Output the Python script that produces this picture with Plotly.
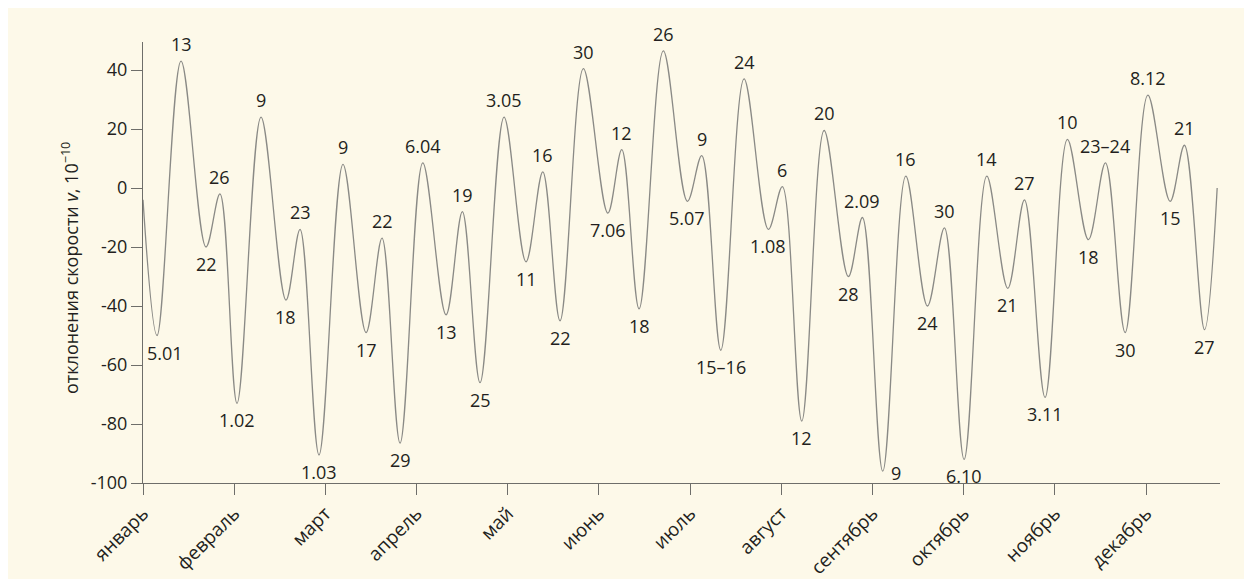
import plotly.graph_objects as go

# === ДАННЫЕ (x в долях месяца от начала января) ===
months = ["январь", "февраль", "март", "апрель", "май", "июнь",
          "июль", "август", "сентябрь", "октябрь", "ноябрь", "декабрь"]
y_ticks = [-100, -80, -60, -40, -20, 0, 20, 40]

# экстремумы кривой: положение, значение, подпись
ext_x = [0.000, 0.154, 0.417, 0.691, 0.844, 1.031, 1.294, 1.568, 1.722, 1.930,
         2.193, 2.446, 2.621, 2.819, 3.068, 3.323, 3.502, 3.696, 3.959, 4.200,
         4.384, 4.573, 4.829, 5.097, 5.250, 5.440, 5.706, 5.970, 6.127, 6.336,
         6.591, 6.858, 7.011, 7.224, 7.469, 7.735, 7.889, 8.112, 8.365, 8.602,
         8.788, 9.004, 9.253, 9.483, 9.666, 9.892, 10.137, 10.367, 10.554, 10.770,
         11.019, 11.263, 11.420, 11.640, 11.779]
ext_y = [-4, -50, 43, -20, -2, -73, 24, -38, -14, -90.5,
         8, -49, -17, -86.5, 8.5, -43, -8, -66, 24, -25,
         5.5, -45, 40.5, -8.5, 13, -41, 46.5, -4.5, 11, -55,
         37, -14, 0.5, -79, 19.5, -30, -10, -96, 4, -40,
         -13.5, -92, 4, -34, -4, -71, 16.5, -17.5, 8.5, -49,
         31.5, -4.5, 14.5, -48, 0]
ext_lbl = ["", "5.01", "13", "22", "26", "1.02", "9", "18", "23", "1.03",
           "9", "17", "22", "29", "6.04", "13", "19", "25", "3.05", "11",
           "16", "22", "30", "7.06", "12", "18", "26", "5.07", "9", "15–16",
           "24", "1.08", "6", "12", "20", "28", "2.09", "9", "16", "24",
           "30", "6.10", "14", "21", "27", "3.11", "10", "18", "23–24", "30",
           "8.12", "15", "21", "27", ""]

FONT = "Open Sans"
TXT = "#231f20"
CREAM = "#fdf9e9"
AXC = "#6e6e6a"

fig = go.Figure()
fig.add_trace(go.Scatter(
    x=ext_x, y=ext_y, mode="lines",
    line=dict(color="#8a8a86", width=1.3, shape="spline", smoothing=1.0),
    hoverinfo="skip", showlegend=False,
))

# подписи экстремумов
annots = []
for i, (x, y, t) in enumerate(zip(ext_x, ext_y, ext_lbl)):
    if not t:
        continue
    is_max = y > ext_y[i - 1]
    a = dict(x=x, y=y, text=t, showarrow=False,
             font=dict(family=FONT, size=18, color=TXT))
    if is_max:
        a.update(yanchor="bottom", yshift=3)
    else:
        a.update(yanchor="top", yshift=-3)
    if t == "5.01":
        a.update(xshift=8)
    if t == "9" and y < -90:
        a.update(yanchor="middle", xanchor="left", xshift=6, yshift=-2)
    annots.append(a)

annots.append(dict(
    x=-0.0817, y=0.4875, xref="paper", yref="paper", showarrow=False,
    text="отклонения скорости <i>v</i>, 10<sup>−10</sup>", textangle=-90,
    font=dict(family=FONT, size=18, color=TXT),
))

# страница сдвинута на 8px полем body, поэтому фигура 1244x571
fig.update_layout(
    width=1244, height=571,
    margin=dict(l=135, r=32, t=34, b=96),
    paper_bgcolor=CREAM,
    plot_bgcolor=CREAM,
    font=dict(family=FONT, color=TXT),
    annotations=annots,
    xaxis=dict(
        range=[0, 11.81], tickmode="array",
        tickvals=list(range(12)), ticktext=months,
        tickangle=-45, ticks="outside", ticklen=11, tickcolor=AXC,
        showline=True, linecolor=AXC, linewidth=1,
        showgrid=False, zeroline=False, automargin=False,
        tickfont=dict(family=FONT, size=19, color=TXT),
    ),
    yaxis=dict(
        range=[-100, 49.5], tickmode="array",
        tickvals=y_ticks, ticktext=[str(v) for v in y_ticks],
        ticks="outside", ticklen=11, tickcolor=AXC,
        showline=True, linecolor=AXC, linewidth=1,
        showgrid=False, zeroline=False, automargin=False,
        tickfont=dict(family=FONT, size=18, color=TXT),
    ),
)

fig.write_html("out.html")
